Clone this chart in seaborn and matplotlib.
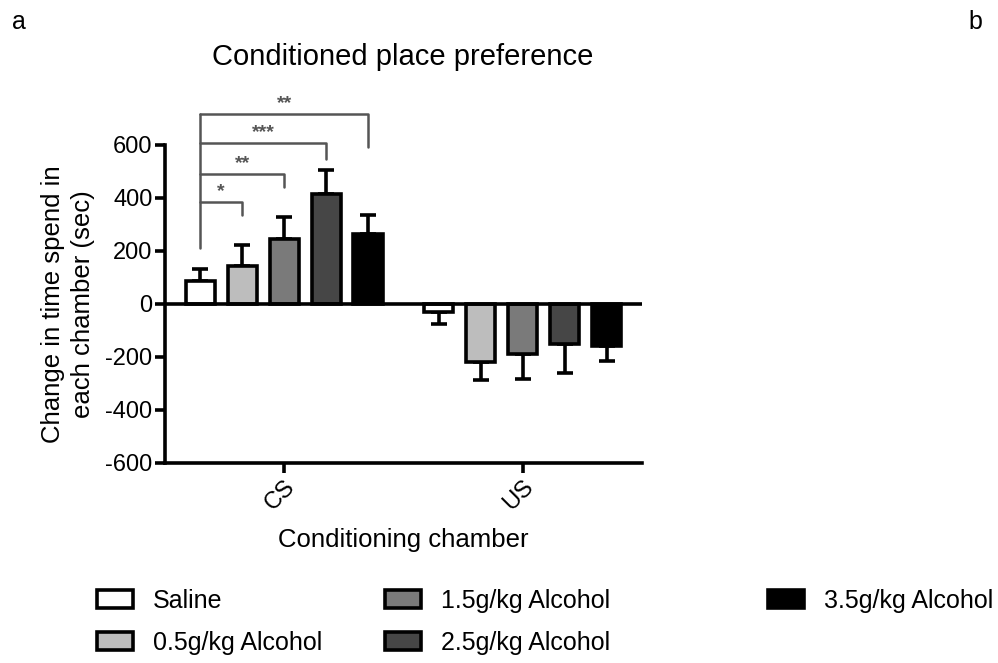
import numpy as np
import pandas as pd
import matplotlib
matplotlib.use("Agg")
import matplotlib.pyplot as plt
import seaborn as sns

# ---- data ----
chambers = ["CS", "US"]
groups = ["Saline", "0.5g/kg Alcohol", "1.5g/kg Alcohol", "2.5g/kg Alcohol", "3.5g/kg Alcohol"]
cs_mean = [88, 145, 246, 416, 265]
cs_sem = [45, 78, 82, 91, 70]
us_mean = [-32, -220, -190, -150, -160]
us_sem = [42, 67, 93, 110, 55]
colors = ["#ffffff", "#bdbdbd", "#7a7a7a", "#464646", "#000000"]

# significance brackets: Saline (CS) vs each alcohol dose (CS)
sig_targets = [1, 2, 3, 4]
sig_labels = ["*", "**", "***", "**"]
sig_levels = [385, 490, 608, 718]
sig_leg_ends = [335, 440, 548, 592]
sig_base = 213

yticks = [-600, -400, -200, 0, 200, 400, 600]

sns.set_style("ticks")
plt.rcParams["font.family"] = ["Liberation Sans", "DejaVu Sans"]
plt.rcParams.update({"text.color": "black", "axes.labelcolor": "black",
                     "xtick.color": "black", "ytick.color": "black"})

df = pd.DataFrame({
    "chamber": np.repeat(chambers, len(groups)),
    "group": groups * len(chambers),
    "value": cs_mean + us_mean,
    "sem": cs_sem + us_sem,
})

fig = plt.figure(figsize=(9.98, 6.63), dpi=100)
ax = fig.add_axes([0.1653, 0.3017, 0.4780, 0.4796])

LW = 2.6
sns.barplot(data=df, x="chamber", y="value", hue="group", hue_order=groups,
            order=chambers, palette=colors, edgecolor="black", linewidth=LW,
            width=0.88, gap=0.3, errorbar=None, legend=False, ax=ax, zorder=3)

# bars sorted left to right: CS (all groups), then US (all groups)
bars = sorted(ax.patches, key=lambda p: p.get_x())
centers = {}
handles = []
for k, bar in enumerate(bars):
    ci, gi = divmod(k, len(groups))
    xc = bar.get_x() + bar.get_width() / 2
    centers[(chambers[ci], gi)] = xc
    if ci == 0:
        handles.append(bar)
    sub = df[(df.chamber == chambers[ci]) & (df.group == groups[gi])].iloc[0]
    v, e = sub["value"], sub["sem"]
    yerr = [[0], [e]] if v >= 0 else [[e], [0]]
    ax.errorbar([xc], [v], yerr=yerr, fmt="none", ecolor="black",
                elinewidth=LW, capsize=6, capthick=LW, zorder=2)

ax.axhline(0, color="black", lw=LW, zorder=4)

ax.set_xlim(-0.5, 1.5)
ax.set_ylim(-600, 600)
ax.set_yticks(yticks)
ax.set_yticklabels([str(t) for t in yticks])

for side in ["top", "right"]:
    ax.spines[side].set_visible(False)
for side in ["left", "bottom"]:
    ax.spines[side].set_linewidth(LW)
    ax.spines[side].set_color("black")
ax.tick_params(axis="both", width=LW, length=7, color="black", labelcolor="black",
               labelsize=17, pad=2)
plt.setp(ax.get_xticklabels(), rotation=45, ha="right", rotation_mode="anchor")

ax.set_xlabel("Conditioning chamber", fontsize=18.5)
ax.xaxis.set_label_coords(0.5, -0.205)
ax.set_ylabel("Change in time spend in\neach chamber (sec)", fontsize=18.5, linespacing=1.3)
ax.yaxis.set_label_coords(-0.147, 0.5)

# significance brackets
gray = "#555555"
x0 = centers[("CS", 0)]
ax.plot([x0, x0], [sig_base, max(sig_levels)], color=gray, lw=1.8, clip_on=False, zorder=5)
for tgt, lab, lvl, end in zip(sig_targets, sig_labels, sig_levels, sig_leg_ends):
    x1 = centers[("CS", tgt)]
    ax.plot([x0, x1, x1], [lvl, lvl, end], color=gray, lw=1.8, clip_on=False, zorder=5)
    ax.text((x0 + x1) / 2, lvl + 8, lab, ha="center", va="bottom",
            fontsize=14, fontweight="bold", color=gray, clip_on=False)

fig.text(0.403, 1 - 57 / 663, "Conditioned place preference", ha="center", va="center",
         fontsize=21)
fig.text(12 / 998, 1 - 22 / 663, "a", ha="left", va="center", fontsize=18)
fig.text(968 / 998, 1 - 22 / 663, "b", ha="left", va="center", fontsize=18)

# legend in three columns
col_specs = [([0, 1], 97), ([2, 3], 385), ([4], 768)]
for idx, xpx in col_specs:
    fig.legend([handles[i] for i in idx], [groups[i] for i in idx],
               loc="upper left", bbox_to_anchor=(xpx / 998, 1 - 589 / 663),
               frameon=False, fontsize=18, borderpad=0, borderaxespad=0,
               handlelength=1.45, handleheight=0.72, handletextpad=0.8,
               labelspacing=0.72)

fig.savefig("out.png", dpi=100)
